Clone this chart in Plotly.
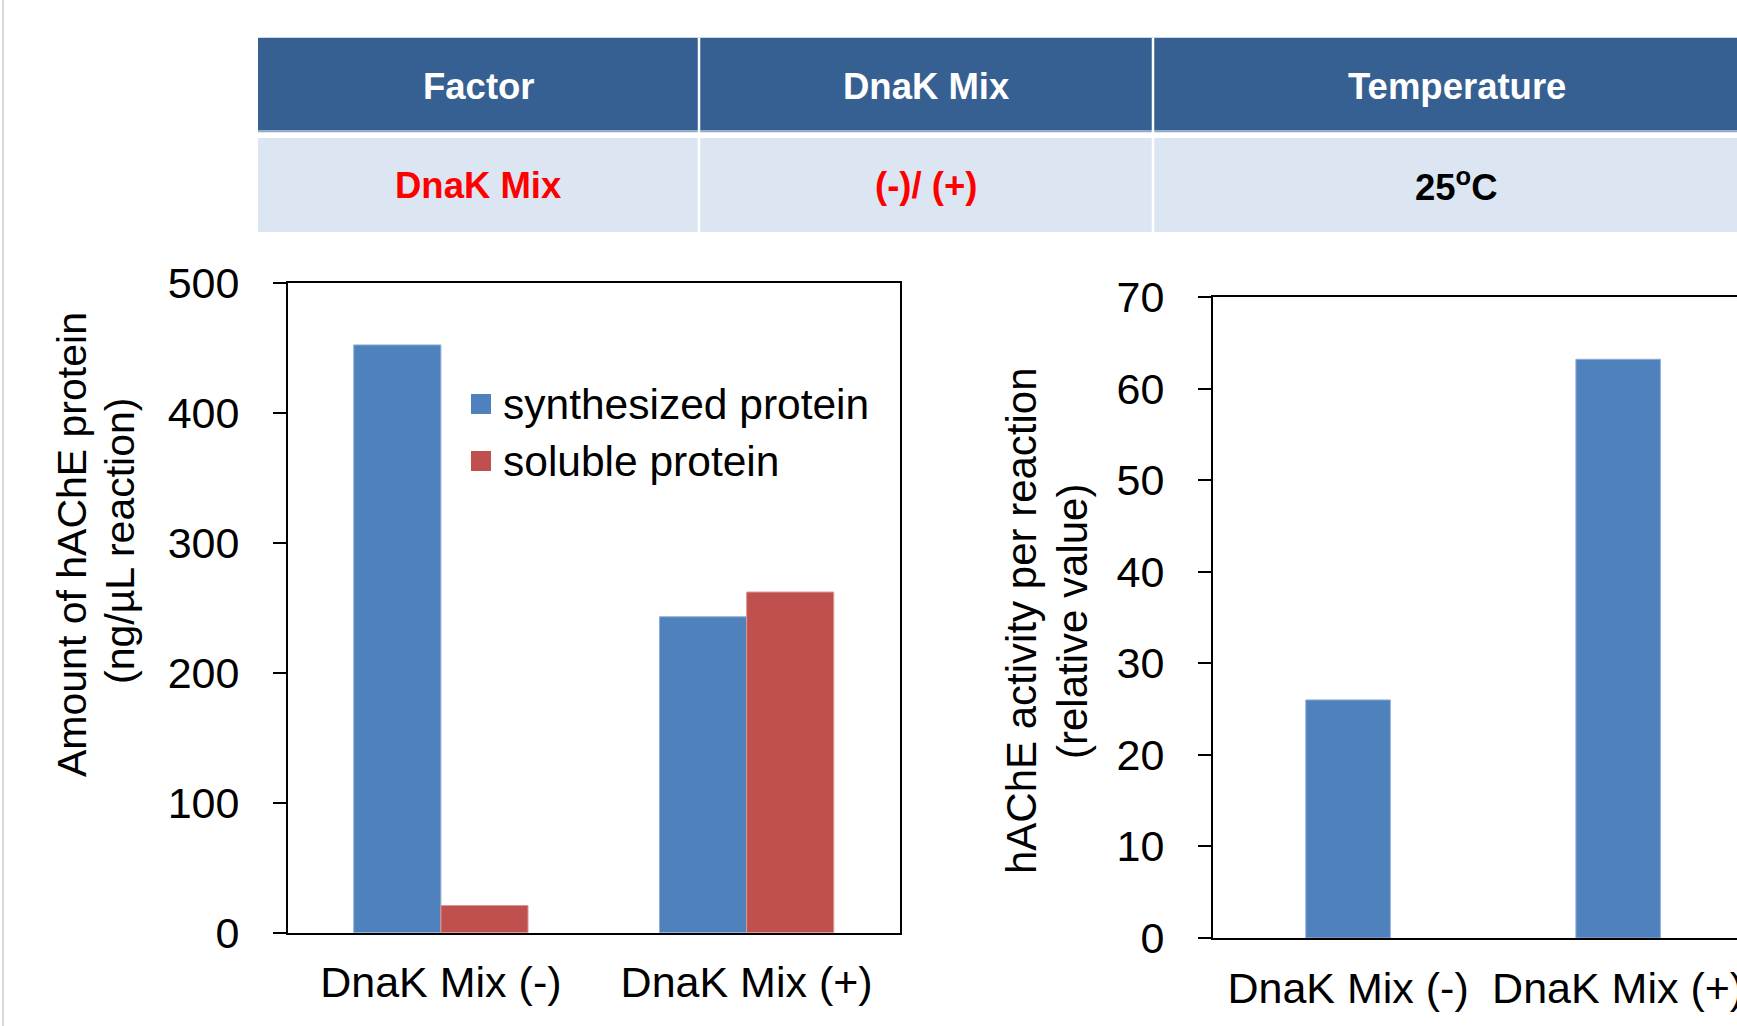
import plotly.graph_objects as go

# ---------------- data ----------------
categories = ["DnaK Mix (-)", "DnaK Mix (+)"]
synthesized = [452, 243]
soluble = [21, 262]
activity = [26.0, 63.2]

table_header = ["Factor", "DnaK Mix", "Temperature"]
table_row = ["DnaK Mix", "(-)/ (+)", "25<sup>o</sup>C"]
table_row_colors = ["#FF0000", "#FF0000", "#000000"]

legend_names = ["synthesized protein", "soluble protein"]
left_ytitle = ["Amount of hAChE protein", "(ng/µL reaction)"]
right_ytitle = ["hAChE activity per reaction", "(relative value)"]

BLUE = "#4F81BD"
RED = "#C0504D"
W, H = 1737, 1026
FONT = "Liberation Sans, Arial, sans-serif"


def px(x):
    return x / W


def py(y):
    return 1 - y / H


fig = go.Figure()

fig.add_trace(go.Bar(x=categories, y=synthesized, name=legend_names[0],
                     marker=dict(color=BLUE, line=dict(color="#8FAEDA", width=1)),
                     xaxis="x", yaxis="y", showlegend=False))
fig.add_trace(go.Bar(x=categories, y=soluble, name=legend_names[1],
                     marker=dict(color=RED, line=dict(color="#DB9795", width=1)),
                     xaxis="x", yaxis="y", showlegend=False))
fig.add_trace(go.Bar(x=categories, y=activity, name="activity", width=0.313,
                     marker=dict(color=BLUE, line=dict(color="#8FAEDA", width=1)),
                     xaxis="x2", yaxis="y2", showlegend=False))

axis_common = dict(showline=True, linecolor="black", linewidth=2,
                   showgrid=False, zeroline=False, automargin=False)

fig.update_layout(
    width=W, height=H,
    autosize=False,
    margin=dict(l=0, r=0, t=0, b=0, pad=0, autoexpand=False),
    paper_bgcolor="white", plot_bgcolor="white",
    barmode="group", bargap=0.43, bargroupgap=0,
    showlegend=False,
    font=dict(family=FONT, color="black"),
    xaxis=dict(domain=[px(288), px(899.5)], anchor="y", range=[-0.5, 1.5],
               mirror=True, ticks="", tickfont=dict(size=43),
               ticklabelstandoff=11, **axis_common),
    yaxis=dict(domain=[py(932.8), py(282.5)], anchor="x", range=[0, 500],
               dtick=100, mirror=True, ticks="outside", ticklen=13,
               tickwidth=2, tickcolor="black", tickfont=dict(size=43),
               ticklabelstandoff=25, **axis_common),
    xaxis2=dict(domain=[px(1213), 1.0], anchor="y2", range=[-0.5, 1.44],
                mirror=True, ticks="", tickfont=dict(size=43),
                ticklabelstandoff=11, **axis_common),
    yaxis2=dict(domain=[py(938), py(297)], anchor="x2", range=[0, 70],
                dtick=10, mirror=False, ticks="outside", ticklen=13,
                tickwidth=2, tickcolor="black", tickfont=dict(size=43),
                ticklabelstandoff=25, **axis_common),
)

shapes = []
annotations = []

# left thin page border
shapes.append(dict(type="line", xref="paper", yref="paper",
                   x0=px(3), x1=px(3), y0=0, y1=1,
                   line=dict(color="#D9D9D9", width=2)))

# ---------------- table ----------------
col_edges = [258, 699, 1153, 1760]
header_y = (37.7, 130.5)
row_y = (138, 232)
shapes.append(dict(type="rect", xref="paper", yref="paper",
                   x0=px(col_edges[0]), x1=px(col_edges[-1]),
                   y0=py(header_y[1]), y1=py(header_y[0]),
                   fillcolor="#376092", line=dict(width=0), layer="below"))
shapes.append(dict(type="rect", xref="paper", yref="paper",
                   x0=px(col_edges[0]), x1=px(col_edges[-1]),
                   y0=py(row_y[1]), y1=py(row_y[0]),
                   fillcolor="#DCE6F2", line=dict(width=0), layer="below"))
# thin light line under header
shapes.append(dict(type="line", xref="paper", yref="paper",
                   x0=px(col_edges[0]), x1=px(col_edges[-1]),
                   y0=py(131.5), y1=py(131.5),
                   line=dict(color="#8EA9CB", width=1.5)))
for xe in col_edges[1:-1]:
    shapes.append(dict(type="line", xref="paper", yref="paper",
                       x0=px(xe), x1=px(xe), y0=py(row_y[1]), y1=py(header_y[0]),
                       line=dict(color="white", width=2.5)))

centers = [(col_edges[i] + col_edges[i + 1]) / 2 for i in range(3)]
for i in range(3):
    annotations.append(dict(xref="paper", yref="paper", x=px(centers[i]),
                            y=py(sum(header_y) / 2 + 2), text="<b>%s</b>" % table_header[i],
                            showarrow=False, xanchor="center", yanchor="middle",
                            font=dict(size=36.5, color="white", family=FONT)))
    annotations.append(dict(xref="paper", yref="paper", x=px(centers[i]),
                            y=py(sum(row_y) / 2), text="<b>%s</b>" % table_row[i],
                            showarrow=False, xanchor="center", yanchor="middle",
                            font=dict(size=36.5, color=table_row_colors[i], family=FONT)))

# ---------------- y titles ----------------
for (xc, yc, t, fs) in [(72, 545, left_ytitle[0], 41), (120, 541, left_ytitle[1], 41),
                        (1021, 620, right_ytitle[0], 42), (1072, 622, right_ytitle[1], 42)]:
    annotations.append(dict(xref="paper", yref="paper", x=px(xc), y=py(yc),
                            text=t, textangle=-90, showarrow=False,
                            xanchor="center", yanchor="middle",
                            font=dict(size=fs, color="black", family=FONT)))

# ---------------- legend (left chart) ----------------
leg_rows = [(404, BLUE, legend_names[0]), (461, RED, legend_names[1])]
for (yc, col, name) in leg_rows:
    shapes.append(dict(type="rect", xref="paper", yref="paper",
                       x0=px(471), x1=px(491), y0=py(yc + 10), y1=py(yc - 10),
                       fillcolor=col, line=dict(width=0)))
    annotations.append(dict(xref="paper", yref="paper", x=px(501), y=py(yc),
                            text=name, showarrow=False, xanchor="left",
                            yanchor="middle",
                            font=dict(size=42.5, color="black", family=FONT)))

fig.update_layout(shapes=shapes, annotations=annotations)

fig.write_html("out.html", config={"displayModeBar": False},
               post_script="document.body.style.margin='0';document.body.style.overflow='hidden';")
